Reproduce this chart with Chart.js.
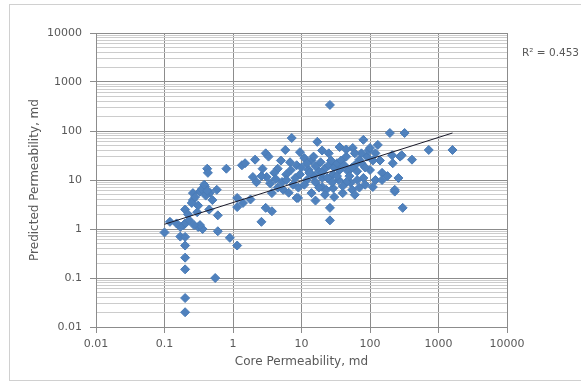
<!DOCTYPE html>
<html>
<head>
<meta charset="utf-8">
<script src="https://cdn.jsdelivr.net/npm/chart.js@4"></script>
<style>
  body { margin: 0; background: #fff; }
</style>
</head>
<body>
<canvas id="myChart" width="581" height="382"></canvas>
<script>
// core permeability (md) vs predicted permeability (md)
var coreK = [
  0.1, 0.12, 0.19, 0.17, 0.2, 0.2, 0.2, 0.2, 0.2, 0.2, 0.2, 0.55, 0.9, 1.15, 1.15, 1.15, 0.6, 0.6, 0.31, 0.36,
  0.42, 0.43, 0.8, 1.35, 0.39, 0.33, 0.26, 0.25, 0.2, 0.46, 0.58, 0.5, 0.33, 0.26, 0.31, 0.22, 0.28, 0.35, 0.4, 0.45,
  0.3, 0.23, 0.17, 0.15, 0.27, 0.38, 0.42,
  1.5, 2.1, 3.0, 5.8, 7.2, 9.5, 6.8, 4.5, 2.7, 3.1, 1.95, 5.2, 8.1, 3.7, 8.9, 3.0, 3.7, 2.6, 1.4, 5.4,
  2.6, 4.0, 6.0, 7.5, 9, 4.5, 6.5, 3.5, 2.2, 1.8, 7.0, 8.5, 5, 3.3, 9.5, 6, 4.2, 8.5,
  17, 19, 12.7, 14, 20, 26, 36, 80, 130, 56, 45, 70, 29, 36, 52, 80, 100, 110, 150, 180,
  29, 55, 23, 40, 20, 26, 26,
  12, 15, 11, 13, 16, 18, 22, 25, 30, 33, 38, 42, 48, 60, 65, 75, 90, 95, 120, 140,
  50, 35, 28, 24, 20, 16, 14, 11, 45, 65, 85, 120, 60, 30, 40, 70, 25, 20, 15, 12,
  10, 18, 22, 33, 55, 75, 100, 110, 60, 27, 45, 85, 16,
  195, 320, 720, 1600, 275, 410, 215, 290, 260, 300, 230, 210, 150, 230
];
var predK = [
  0.85, 1.4, 1.2, 0.7, 1.3, 0.69, 0.46, 0.26, 0.15, 0.039, 0.02, 0.1, 0.66, 0.46, 2.8, 4.3, 1.9, 0.9, 1.1, 1.0,
  17, 14, 17, 20, 7.3, 5.8, 3.9, 3.4, 2.5, 5.5, 6.3, 3.9, 1.2, 5.4, 3.0, 2.0, 4.5, 6.5, 4.8, 2.5,
  2.2, 1.5, 1.1, 1.3, 1.2, 8, 6.0,
  22, 26, 35, 41, 72, 37, 23, 17, 17, 11.5, 11.5, 9.1, 11, 5.4, 4.3, 2.7, 2.3, 1.4, 3.4, 6.3,
  12, 14, 13, 8, 7, 7, 5.5, 8.5, 9, 4, 16, 20, 25, 30, 13, 10, 10.5, 4.3,
  60, 23, 16, 5.4, 7.2, 340, 47, 66, 52, 45, 30, 26, 13, 16, 8.8, 11, 16, 7.2, 14, 12,
  6.8, 6.3, 6.3, 5.4, 11, 2.7, 1.5,
  10, 12, 8, 14, 9, 15, 17, 20, 18, 22, 25, 20, 15, 20, 15, 22, 30, 40, 35, 25,
  12, 10, 9, 11, 14, 19, 25, 28, 9, 10, 8, 10, 5, 4.5, 7.5, 7, 35, 40, 30, 22,
  18, 7, 5, 12, 18, 35, 45, 25, 35, 25, 42, 18, 3.8,
  91, 91, 41, 41, 30, 26, 22, 32, 11, 2.7, 5.8, 32, 10, 6.3
];

// power-law trendline ends
var trendX = [0.1, 1600];
var trendY = [1.25, 91];
var rSquared = "R\u00b2 = 0.453";

var decades = [0.01, 0.1, 1, 10, 100, 1000, 10000];
var minorSteps = [2, 3, 4, 5, 6, 7, 8, 9];

var yTicks = [];
decades.forEach(function (d, i) {
  yTicks.push(d);
  if (i < decades.length - 1) {
    minorSteps.forEach(function (m) { yTicks.push(parseFloat((m * d).toPrecision(6))); });
  }
});

function isDecade(v) {
  var l = Math.log10(v);
  return Math.abs(l - Math.round(l)) < 1e-9;
}

var points = coreK.map(function (x, i) { return {x: x, y: predK[i]}; });
var trend = trendX.map(function (x, i) { return {x: x, y: trendY[i]}; });

var frame = {
  id: "frame",
  beforeDraw: function (chart) {
    var c = chart.ctx;
    c.save();
    c.fillStyle = "#fff";
    c.fillRect(0, 0, chart.width, chart.height);
    c.restore();
  },
  afterDraw: function (chart) {
    var c = chart.ctx;
    c.save();
    c.strokeStyle = "#d0d0d0";
    c.lineWidth = 1;
    c.strokeRect(9.5, 4.5, 600, 376);
    c.fillStyle = "#595959";
    c.font = "10.5px 'DejaVu Sans'";
    c.textBaseline = "middle";
    c.fillText(rSquared, 522, 53);
    c.restore();
  }
};

new Chart("myChart", {
  type: "scatter",
  data: {
    datasets: [{
      type: "line",
      data: trend,
      borderColor: "#1a1a2a",
      borderWidth: 1,
      pointRadius: 0,
      fill: false
    }, {
      data: points,
      pointStyle: "rectRot",
      pointRadius: 4.5,
      backgroundColor: "#4f81bd",
      borderColor: "#4a7cb8",
      borderWidth: 1
    }]
  },
  options: {
    responsive: false,
    animation: false,
    layout: {padding: {left: 10, top: 33, right: 74, bottom: 0}},
    plugins: {legend: {display: false}, tooltip: {enabled: false}},
    scales: {
      x: {
        type: "logarithmic",
        min: 0.01,
        max: 10000,
        afterBuildTicks: function (axis) {
          axis.ticks = decades.map(function (v) { return {value: v, major: true}; });
        },
        afterFit: function (axis) { axis.height = 55; },
        grid: {color: "#8c8c8c", tickColor: "#8c8c8c", tickLength: 6},
        border: {color: "#8c8c8c"},
        ticks: {
          autoSkip: false,
          maxRotation: 0,
          padding: 5,
          color: "#595959",
          font: {family: "DejaVu Sans", size: 11},
          callback: function (v) { return String(v); }
        },
        title: {
          display: true,
          text: "Core Permeability, md",
          color: "#595959",
          font: {family: "DejaVu Sans", size: 12},
          padding: {top: 0, bottom: 13}
        }
      },
      y: {
        type: "logarithmic",
        min: 0.01,
        max: 10000,
        afterBuildTicks: function (axis) {
          axis.ticks = yTicks.map(function (v) { return {value: v, major: isDecade(v)}; });
        },
        afterFit: function (axis) { axis.width = 86; },
        grid: {
          color: function (ctx) { return ctx.tick && isDecade(ctx.tick.value) ? "#8c8c8c" : "#cccccc"; },
          tickColor: function (ctx) { return ctx.tick && isDecade(ctx.tick.value) ? "#8c8c8c" : "rgba(0,0,0,0)"; },
          tickLength: 6
        },
        border: {color: "#8c8c8c"},
        ticks: {
          autoSkip: false,
          padding: 8,
          color: "#595959",
          font: {family: "DejaVu Sans", size: 11},
          callback: function (v) { return isDecade(v) ? String(v) : ""; }
        },
        title: {
          display: true,
          text: "Predicted Permeability, md",
          color: "#595959",
          font: {family: "DejaVu Sans", size: 12},
          padding: {top: 18, bottom: 0}
        }
      }
    }
  },
  plugins: [frame]
});
</script>
</body>
</html>
